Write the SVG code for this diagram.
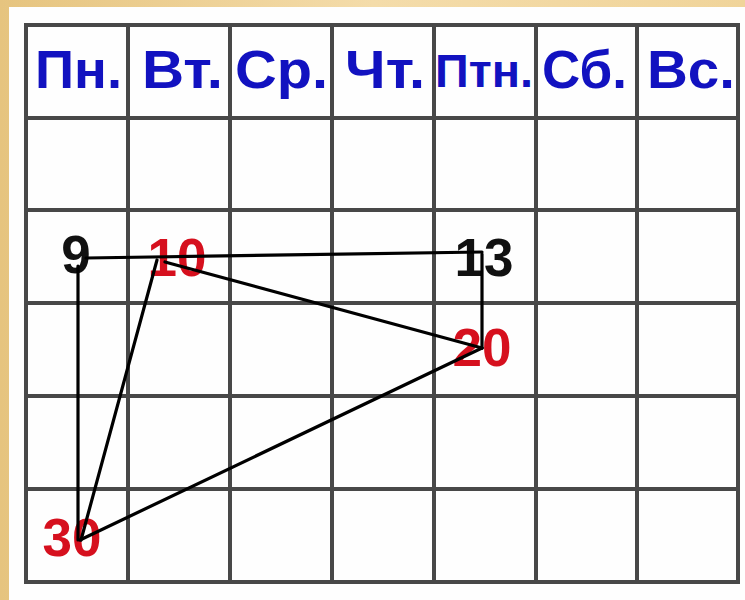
<svg xmlns="http://www.w3.org/2000/svg" width="745" height="600" viewBox="0 0 745 600">
<defs>
<linearGradient id="bg" x1="0" y1="0" x2="1" y2="0">
<stop offset="0" stop-color="#e6c47f"/>
<stop offset="0.5" stop-color="#f4dcaa"/>
<stop offset="1" stop-color="#f0d49a"/>
</linearGradient>
<style>
.grid{stroke:#484848;stroke-width:4;fill:none}
.hd{font-family:"Liberation Sans",Arial,sans-serif;font-weight:bold;font-size:54px;fill:#1212c0}
.num{font-family:"Liberation Sans",Arial,sans-serif;font-weight:bold;font-size:53px;text-anchor:middle}
.blk{fill:#111}
.red{fill:#d6101e}
.conn{stroke:#000;stroke-width:3.2;fill:none;stroke-linecap:round}
</style>
</defs>
<rect x="0" y="0" width="745" height="600" fill="url(#bg)"/>
<rect x="9" y="7" width="736" height="593" fill="#fefefe"/>
<g id="grid">
<rect class="grid" x="26" y="25" width="712" height="557"/>
<path class="grid" d="M128 25V582M230 25V582M332 25V582M434 25V582M536 25V582M637 25V582M26 118H738M26 210H738M26 303H738M26 396H738M26 489H738"/>
</g>
<g id="headers">
<text class="hd" x="35" y="88" textLength="87" lengthAdjust="spacingAndGlyphs">Пн.</text>
<text class="hd" x="142" y="88" textLength="81" lengthAdjust="spacingAndGlyphs">Вт.</text>
<text class="hd" x="235" y="88" textLength="93" lengthAdjust="spacingAndGlyphs">Ср.</text>
<text class="hd" x="345" y="88" textLength="80" lengthAdjust="spacingAndGlyphs">Чт.</text>
<text class="hd" x="435" y="87" style="font-size:46px" textLength="98" lengthAdjust="spacingAndGlyphs">Птн.</text>
<text class="hd" x="542" y="88" textLength="85" lengthAdjust="spacingAndGlyphs">Сб.</text>
<text class="hd" x="647" y="88" textLength="88" lengthAdjust="spacingAndGlyphs">Вс.</text>
</g>
<g id="n9"><text class="num blk" x="76" y="273">9</text></g>
<g id="n10"><text class="num red" x="177" y="276">10</text></g>
<g id="n13"><text class="num blk" x="484" y="276">13</text></g>
<g id="n20"><text class="num red" x="482" y="366">20</text></g>
<g id="n30"><text class="num red" x="72" y="556">30</text></g>
<g id="connectors">
<line class="conn" x1="86" y1="258" x2="482" y2="252"/>
<line class="conn" x1="78" y1="266" x2="78" y2="540"/>
<line class="conn" x1="157" y1="260" x2="81" y2="540"/>
<line class="conn" x1="165" y1="262" x2="482" y2="348"/>
<line class="conn" x1="482" y1="254" x2="482" y2="348"/>
<line class="conn" x1="482" y1="348" x2="80" y2="540"/>
</g>
</svg>
